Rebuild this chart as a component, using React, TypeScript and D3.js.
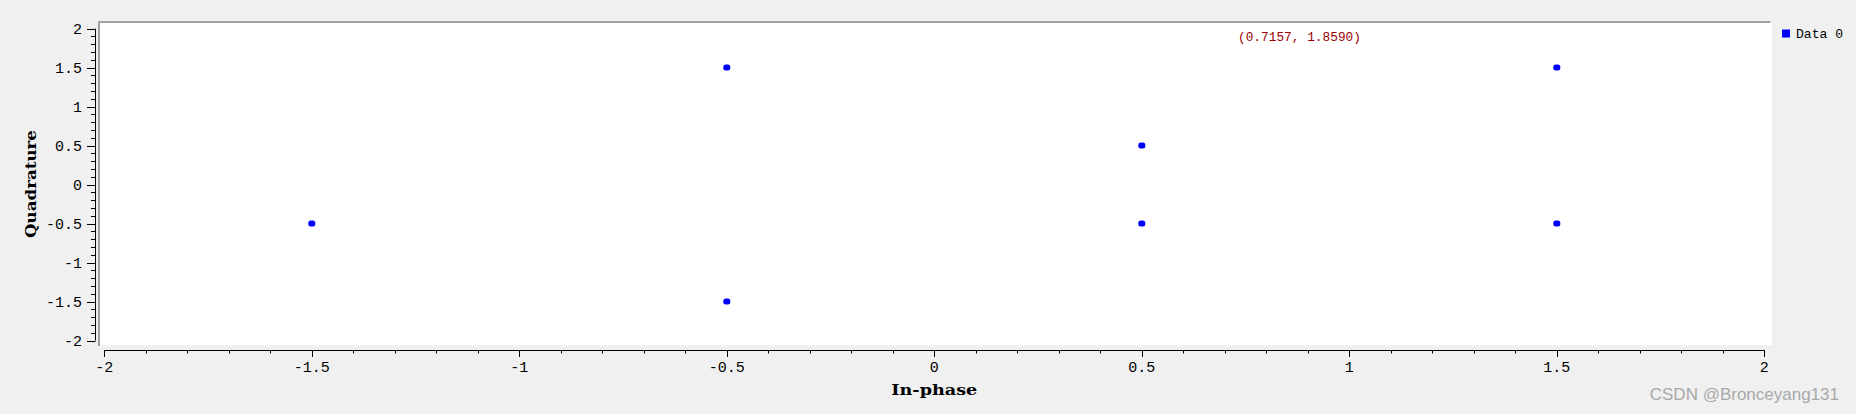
import React from "react";
import * as d3 from "d3";

const W = 1856;
const H = 414;

const seriesName = "Data 0";
const inPhase = [-1.5, -0.5, -0.5, 0.5, 0.5, 1.5, 1.5];
const quadrature = [-0.5, 1.5, -1.5, 0.5, -0.5, 1.5, -0.5];
const majorTicks = [-2, -1.5, -1, -0.5, 0, 0.5, 1, 1.5, 2];
const annotation = "(0.7157, 1.8590)";
const watermark = "CSDN @Bronceyang131";

const fmt = (v: number) => (v < 0 ? "-" : "") + String(Math.abs(v));

export default function App() {
  const x = d3.scaleLinear().domain([-2, 2]).range([104.3, 1764.3]);
  const y = d3.scaleLinear().domain([-2, 2]).range([340.5, 28.5]);
  const minor = d3.range(-20, 21).map((i) => i / 10);
  const isMajor = (v: number) => Math.abs(v * 2 - Math.round(v * 2)) < 1e-9;
  const axisY = 95;
  const axisX = 350;
  const mono = "'Liberation Mono', 'DejaVu Sans Mono', monospace";
  const serif = "'DejaVu Serif', 'Liberation Serif', serif";

  return (
    <svg
      width={W}
      height={H}
      style={{ position: "absolute", left: 0, top: 0, background: "#f0f0f0" }}
    >
      <rect x={0} y={0} width={W} height={H} fill="#f0f0f0" />
      {/* plot area */}
      <rect x={98} y={21} width={1772 - 98} height={345 - 21} fill="#ffffff" />
      <line x1={98} y1={22} x2={1770.5} y2={22} stroke="#a0a0a0" strokeWidth={2} />
      <line x1={99} y1={21} x2={99} y2={346} stroke="#a0a0a0" strokeWidth={2} />

      {/* y axis */}
      <line x1={axisY + 0.5} y1={y(2)} x2={axisY + 0.5} y2={y(-2)} stroke="#000" />
      {minor.map((v) => (
        <line
          key={"ym" + v}
          x1={axisY - (isMajor(v) ? 8 : 4)}
          x2={axisY + 0.5}
          y1={Math.round(y(v)) + 0.5}
          y2={Math.round(y(v)) + 0.5}
          stroke="#000"
        />
      ))}
      {majorTicks.map((v) => (
        <text
          key={"yl" + v}
          x={82}
          y={y(v)}
          dy="0.35em"
          textAnchor="end"
          fontFamily={mono}
          fontSize={15}
          fill="#000"
        >
          {fmt(v)}
        </text>
      ))}
      <text
        transform={`translate(36,${184}) rotate(-90)`}
        textAnchor="middle"
        fontFamily={serif}
        fontWeight="bold"
        fontSize={15}
        textLength={108}
        lengthAdjust="spacingAndGlyphs"
        fill="#000"
      >
        Quadrature
      </text>

      {/* x axis */}
      <line x1={x(-2)} y1={axisX + 0.5} x2={x(2)} y2={axisX + 0.5} stroke="#000" />
      {minor.map((v) => (
        <line
          key={"xm" + v}
          x1={Math.round(x(v)) + 0.5}
          x2={Math.round(x(v)) + 0.5}
          y1={axisX}
          y2={axisX + (isMajor(v) ? 7 : 3.5)}
          stroke="#000"
        />
      ))}
      {majorTicks.map((v) => (
        <text
          key={"xl" + v}
          x={x(v)}
          y={367}
          dy="0.35em"
          textAnchor="middle"
          fontFamily={mono}
          fontSize={15}
          fill="#000"
        >
          {fmt(v)}
        </text>
      ))}
      <text
        x={x(0)}
        y={389.5}
        dy="0.35em"
        textAnchor="middle"
        fontFamily={serif}
        fontWeight="bold"
        fontSize={15}
        textLength={86}
        lengthAdjust="spacingAndGlyphs"
        fill="#000"
      >
        In-phase
      </text>

      {/* points */}
      {inPhase.map((xi, i) => (
        <rect
          key={"p" + i}
          x={x(xi) - 3.5}
          y={y(quadrature[i]) - 3}
          width={7}
          height={6}
          rx={2.5}
          fill="#0000ff"
        />
      ))}

      {/* annotation */}
      <text
        x={1299.5}
        y={36.7}
        dy="0.35em"
        textAnchor="middle"
        fontFamily={mono}
        fontSize={13}
        textLength={123}
        lengthAdjust="spacingAndGlyphs"
        fill="#990000"
      >
        {annotation}
      </text>

      {/* legend */}
      <rect x={1782} y={29.5} width={8} height={8} fill="#0000ff" />
      <text
        x={1796}
        y={33.5}
        dy="0.35em"
        fontFamily={mono}
        fontSize={13}
        textLength={47}
        lengthAdjust="spacingAndGlyphs"
        fill="#000"
      >
        {seriesName}
      </text>

      {/* watermark */}
      <text
        x={1839}
        y={400}
        textAnchor="end"
        fontFamily="'Liberation Sans', Arial, sans-serif"
        fontSize={17}
        fill="#a8a8a8"
      >
        {watermark}
      </text>
    </svg>
  );
}
